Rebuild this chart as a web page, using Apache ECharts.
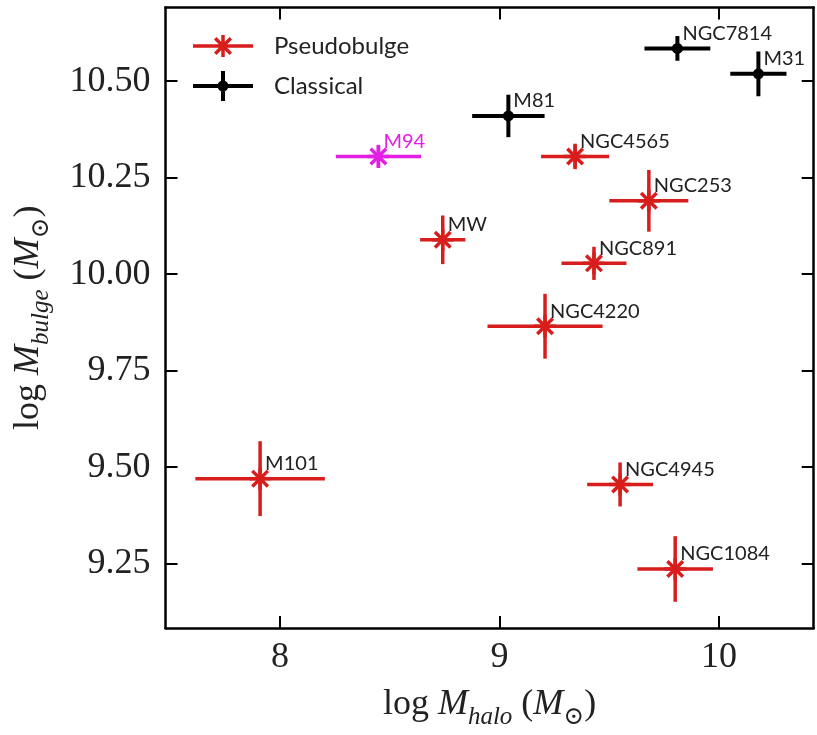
<!DOCTYPE html>
<html>
<head>
<meta charset="utf-8">
<script src="https://cdn.jsdelivr.net/npm/echarts@6/dist/echarts.min.js"></script>
<style>html,body{margin:0;padding:0;background:#fff}#chart{width:817px;height:735px}</style>
</head>
<body>
<div id="chart"></div>
<script>
// ---- data ----
const pseudoNames = ['M101', 'MW', 'NGC4220', 'NGC4565', 'NGC891', 'NGC4945', 'NGC253', 'NGC1084'];
const pseudoX     = [7.909, 8.741, 9.207, 9.344, 9.430, 9.549, 9.680, 9.800];
const pseudoY     = [9.470, 10.089, 9.865, 10.305, 10.028, 9.455, 10.190, 9.236];
const pseudoXErr  = [0.295, 0.103, 0.262, 0.155, 0.148, 0.150, 0.180, 0.172];
const pseudoYErr  = [0.097, 0.063, 0.084, 0.033, 0.043, 0.057, 0.080, 0.085];

const m94Names = ['M94'];
const m94X     = [8.448];
const m94Y     = [10.305];
const m94XErr  = [0.194];
const m94YErr  = [0.030];

const classicalNames = ['M81', 'NGC7814', 'M31'];
const classicalX     = [9.040, 9.810, 10.179];
const classicalY     = [10.410, 10.585, 10.519];
const classicalXErr  = [0.165, 0.150, 0.128];
const classicalYErr  = [0.055, 0.032, 0.058];

const xTicks = [8, 9, 10];
const yTicks = [9.25, 9.50, 9.75, 10.00, 10.25, 10.50];
const xRange = [7.478, 10.431];
const yRange = [9.083, 10.691];

// ---- styling ----
const RED = '#d81d1d';
const MAGENTA = '#e31fe3';
const BLACK = '#000000';
const SERIF = '"Liberation Serif", "DejaVu Serif", serif';
const SANS = 'Lato, "Open Sans", sans-serif';

function rows(xs, ys, ex, ey) {
  return xs.map((x, i) => [x, ys[i], ex[i], ey[i]]);
}

function makeRender(names, kind, color, lw, labelColor) {
  return function (params, api) {
    const x = api.value(0), y = api.value(1), ex = api.value(2), ey = api.value(3);
    const c = api.coord([x, y]);
    const l = api.coord([x - ex, y]), r = api.coord([x + ex, y]);
    const t = api.coord([x, y + ey]), b = api.coord([x, y - ey]);
    const st = { stroke: color, lineWidth: lw };
    const children = [
      { type: 'line', shape: { x1: l[0], y1: l[1], x2: r[0], y2: r[1] }, style: st },
      { type: 'line', shape: { x1: t[0], y1: t[1], x2: b[0], y2: b[1] }, style: st }
    ];
    if (kind === 'star') {
      const R = 11, d = R * Math.SQRT1_2;
      children.push({ type: 'line', shape: { x1: c[0] - d, y1: c[1] - d, x2: c[0] + d, y2: c[1] + d }, style: st });
      children.push({ type: 'line', shape: { x1: c[0] - d, y1: c[1] + d, x2: c[0] + d, y2: c[1] - d }, style: st });
      children.push({ type: 'line', shape: { x1: c[0], y1: c[1] - R, x2: c[0], y2: c[1] + R }, style: st });
      children.push({ type: 'line', shape: { x1: c[0] - R, y1: c[1], x2: c[0] + R, y2: c[1] }, style: st });
    } else {
      children.push({ type: 'circle', shape: { cx: c[0], cy: c[1], r: 5.5 }, style: { fill: color } });
    }
    children.push({
      type: 'text',
      style: {
        text: names[params.dataIndex], x: c[0] + 5, y: c[1] - 15,
        fill: labelColor, font: '20px ' + SANS, align: 'left', verticalAlign: 'middle'
      }
    });
    return { type: 'group', children: children };
  };
}

const starIcon = 'path://M30 0L30.01 0L30 0.01Z M30 30L30.01 30L30 29.99Z ' +
  'M0 13.25L60 13.25L60 16.75L0 16.75Z ' +
  'M28.25 4L31.75 4L31.75 26L28.25 26Z ' +
  'M23.44 5.96L39.04 21.56L36.56 24.04L20.96 8.44Z ' +
  'M39.04 8.44L23.44 24.04L20.96 21.56L36.56 5.96Z';
const dotIcon = 'path://M0 13L60 13L60 17L0 17Z M28 0L32 0L32 30L28 30Z ' +
  'M35.5 15A5.5 5.5 0 1 1 24.5 15A5.5 5.5 0 1 1 35.5 15Z';

const tickStyle = { show: true, inside: true, length: 12, lineStyle: { color: '#000', width: 2 } };
const lineStyle = { show: true, onZero: false, lineStyle: { color: '#000', width: 2.5 } };
const labelFont = { fontFamily: SERIF, fontSize: 36, color: '#222' };

const nameRich = {
  r: { fontFamily: SERIF, fontSize: 36, color: '#222', lineHeight: 50 },
  i: { fontFamily: SERIF, fontSize: 36, fontStyle: 'italic', color: '#222', lineHeight: 50 },
  s: { fontFamily: SERIF, fontSize: 25, fontStyle: 'italic', color: '#222', lineHeight: 25, verticalAlign: 'bottom' },
  o: { fontFamily: SERIF, fontSize: 25, color: '#222', lineHeight: 25, verticalAlign: 'bottom' }
};

const option = {
  animation: false,
  backgroundColor: '#fff',
  grid: { left: 165.5, right: 3.3, top: 7.5, bottom: 93, containLabel: false },
  legend: {
    left: 188, top: 26, orient: 'vertical', itemWidth: 60, itemHeight: 30, itemGap: 10,
    textStyle: { fontFamily: SANS, fontSize: 24, color: '#222', padding: [0, 0, 0, 16] },
    data: [{ name: 'Pseudobulge', icon: starIcon }, { name: 'Classical', icon: dotIcon }]
  },
  xAxis: [
    {
      type: 'value', position: 'bottom', min: xRange[0], max: xRange[1],
      axisLine: lineStyle, splitLine: { show: false },
      axisTick: Object.assign({ customValues: xTicks }, tickStyle),
      axisLabel: Object.assign({ customValues: xTicks, margin: 12, formatter: v => String(v) }, labelFont),
      name: '{r|log }{i|M}{s|halo}{r| (}{i|M}{o|⊙}{r|)}',
      nameLocation: 'middle', nameGap: 52, nameTextStyle: { rich: nameRich }
    },
    {
      type: 'value', position: 'top', min: xRange[0], max: xRange[1],
      axisLine: lineStyle, splitLine: { show: false },
      axisTick: Object.assign({ customValues: xTicks }, tickStyle),
      axisLabel: { show: false }
    }
  ],
  yAxis: [
    {
      type: 'value', position: 'left', min: yRange[0], max: yRange[1],
      axisLine: lineStyle, splitLine: { show: false },
      axisTick: Object.assign({ customValues: yTicks }, tickStyle),
      axisLabel: Object.assign({ customValues: yTicks, margin: 15, formatter: v => v.toFixed(2) }, labelFont),
      name: '{r|log }{i|M}{s|bulge}{r| (}{i|M}{o|⊙}{r|)}',
      nameLocation: 'middle', nameGap: 112, nameRotate: 90, nameTextStyle: { rich: nameRich }
    },
    {
      type: 'value', position: 'right', min: yRange[0], max: yRange[1],
      axisLine: lineStyle, splitLine: { show: false },
      axisTick: Object.assign({ customValues: yTicks }, tickStyle),
      axisLabel: { show: false }
    }
  ],
  series: [
    {
      name: 'Pseudobulge', type: 'custom', clip: false, itemStyle: { color: RED },
      renderItem: makeRender(pseudoNames, 'star', RED, 3.5, '#222'),
      data: rows(pseudoX, pseudoY, pseudoXErr, pseudoYErr)
    },
    {
      name: 'M94', type: 'custom', clip: false, itemStyle: { color: MAGENTA },
      renderItem: makeRender(m94Names, 'star', MAGENTA, 3.5, MAGENTA),
      data: rows(m94X, m94Y, m94XErr, m94YErr)
    },
    {
      name: 'Classical', type: 'custom', clip: false, itemStyle: { color: BLACK },
      renderItem: makeRender(classicalNames, 'dot', BLACK, 4, '#222'),
      data: rows(classicalX, classicalY, classicalXErr, classicalYErr)
    }
  ]
};

const chart = echarts.init(document.getElementById('chart'), null, { renderer: 'canvas' });
chart.setOption(option);
</script>
</body>
</html>
